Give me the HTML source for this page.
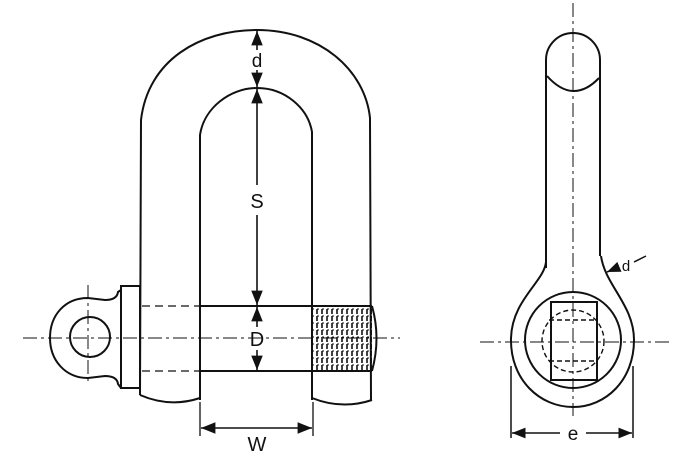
<!DOCTYPE html>
<html><head><meta charset="utf-8"><style>html,body{margin:0;padding:0;background:#fff}svg{display:block}text{font-family:"Liberation Sans",sans-serif;fill:#111}</style></head>
<body>
<svg width="700" height="470" viewBox="0 0 700 470" xmlns="http://www.w3.org/2000/svg">
<defs>
<marker id="a" viewBox="0 0 10 10" refX="10" refY="5" markerWidth="9" markerHeight="9" orient="auto-start-reverse"><path d="M0,1 L10,5 L0,9 z" fill="#111"/></marker>
<pattern id="th" width="5" height="7" patternUnits="userSpaceOnUse"><path d="M2,1 v5" stroke="#111" stroke-width="1.6"/><path d="M2,1 h2" stroke="#111" stroke-width="1"/></pattern>
</defs>
<g fill="none" stroke="#111" stroke-width="2">
<path d="M140,395 L141,120 C148,60 200,30 257,30 C320,30 365,70 370,118 L371,400"/>
<path d="M200,400 L200,135 C204,108 230,88 257,88 C285,88 308,108 312,132 L312,400"/>
<path d="M140,395 Q170,408 200,398"/>
<path d="M312,398 Q342,410 372,400"/>
<line x1="200" y1="306" x2="372" y2="306"/>
<line x1="200" y1="371" x2="372" y2="371"/>
<rect x="313" y="307" width="59" height="63" fill="url(#th)" stroke="none"/>
<path d="M372,306 Q381,338 372,371"/>
<rect x="121" y="286" width="19" height="102"/>
<path d="M121,290 L118,292 Q117,300 105,300 L88,298 C65,298 50,315 50,338 C50,360 65,378 88,378 L105,376 Q117,376 118,384 L121,388"/>
<circle cx="90" cy="337" r="20"/>
</g>
<g fill="none" stroke="#111" stroke-width="1.3" stroke-dasharray="8,5">
<line x1="142" y1="306" x2="200" y2="306"/>
<line x1="142" y1="371" x2="200" y2="371"/>
</g>
<g fill="none" stroke="#111" stroke-width="1" stroke-dasharray="14,4,3,4">
<line x1="23" y1="338" x2="400" y2="338"/>
<line x1="88" y1="285" x2="88" y2="382"/>
<line x1="573" y1="3" x2="573" y2="416"/>
<line x1="480" y1="342" x2="670" y2="342"/>
</g>
<g stroke="#111" stroke-width="1.6" fill="none">
<line x1="257" y1="31" x2="257" y2="50" marker-start="url(#a)"/>
<line x1="257" y1="70" x2="257" y2="87" marker-end="url(#a)"/>
<line x1="257" y1="89" x2="257" y2="185" marker-start="url(#a)"/>
<line x1="257" y1="215" x2="257" y2="305" marker-end="url(#a)"/>
<line x1="257" y1="307" x2="257" y2="327" marker-start="url(#a)"/>
<line x1="257" y1="350" x2="257" y2="370" marker-end="url(#a)"/>
<line x1="200" y1="402" x2="200" y2="436" stroke-width="1.3"/>
<line x1="313" y1="402" x2="313" y2="436" stroke-width="1.3"/>
<line x1="201" y1="428" x2="312" y2="428" marker-start="url(#a)" marker-end="url(#a)"/>
</g>
<text x="257" y="67" font-size="19" text-anchor="middle">d</text>
<text x="257" y="208" font-size="20" text-anchor="middle">S</text>
<text x="257" y="346" font-size="20" text-anchor="middle">D</text>
<text x="257" y="451" font-size="20" text-anchor="middle">W</text>
<g fill="none" stroke="#111" stroke-width="2">
<path d="M546,268 L546,60 A27,27 0 0 1 600,60 L600,256"/>
<path d="M547,76 Q573,105 599,78"/>
<path d="M546,262 C544,282 512,300 511,338 C510,380 540,407 573,407 C606,407 634,380 634,340 C634,305 605,285 601,256"/>
<circle cx="573" cy="340" r="48"/>
<rect x="551" y="302" width="46" height="78"/>
</g>
<g fill="none" stroke="#111" stroke-width="1.4" stroke-dasharray="5,3">
<circle cx="573" cy="341" r="31"/>
<line x1="549" y1="320" x2="597" y2="320"/>
<line x1="549" y1="361" x2="597" y2="361"/>
</g>
<g stroke="#111" stroke-width="1.5" fill="none">
<line x1="511" y1="366" x2="511" y2="438"/>
<line x1="633" y1="366" x2="633" y2="438"/>
<line x1="512" y1="433" x2="560" y2="433" marker-start="url(#a)"/>
<line x1="586" y1="433" x2="632" y2="433" marker-end="url(#a)"/>
<line x1="619" y1="267" x2="607" y2="272" marker-end="url(#a)"/>
<line x1="634" y1="262" x2="646" y2="256"/>
</g>
<text x="573" y="440" font-size="19" text-anchor="middle">e</text>
<text x="626" y="271" font-size="15" text-anchor="middle">d</text>
</svg>
</body></html>
